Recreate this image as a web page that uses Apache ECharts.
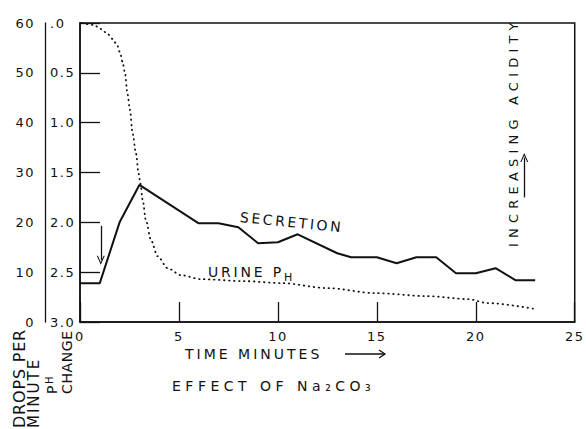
<!DOCTYPE html>
<html>
<head>
<meta charset="utf-8">
<script src="https://cdn.jsdelivr.net/npm/echarts@6/dist/echarts.min.js"></script>
<style>
  html, body { margin: 0; padding: 0; background: #fff; }
  #chart { width: 586px; height: 429px; }
</style>
</head>
<body>
<div id="chart"></div>
<script>
// ---- data ----
const timeTicks = [0, 5, 10, 15, 20, 25];
const dropsTicks = [0, 10, 20, 30, 40, 50, 60];
const phTicks = [0, 0.5, 1.0, 1.5, 2.0, 2.5, 3.0];

const secretionTime  = [0, 1, 2, 3, 6, 7, 8, 9, 10, 11, 13, 13.7, 15, 16, 17, 18, 19, 20, 21, 22, 23];
const secretionDrops = [7.8, 7.8, 20, 27.5, 19.8, 19.8, 19.0, 15.8, 16.0, 17.6, 13.8, 13.0, 13.0, 11.8, 13.0, 13.0, 9.8, 9.8, 10.8, 8.4, 8.4];

const urineTime     = [0.1, 0.7, 1.05, 1.35, 1.65, 1.87, 2.03, 2.15, 2.27, 2.4, 2.52, 2.66, 2.83, 2.96, 3.05, 3.17, 3.33, 3.59, 3.92, 4.43, 5.1, 6.1, 8.3, 10.2, 12.5, 14.9, 17.5, 19.6, 20.6, 23.0];
const urinePhChange = [0.0, 0.02, 0.06, 0.10, 0.16, 0.22, 0.30, 0.39, 0.50, 0.71, 0.87, 1.11, 1.31, 1.51, 1.61, 1.78, 1.98, 2.18, 2.34, 2.46, 2.53, 2.57, 2.59, 2.61, 2.66, 2.71, 2.74, 2.77, 2.81, 2.87];

// injection arrow (time, drops from -> to) and acidity arrow
const injectionArrow = { t: 1.05, from: 19.3, to: 12.4 };
const acidityArrow = { t: 22.45, from: 25.0, to: 33.0 };

// ---- build ----
const FONT = 'DejaVu Sans';
const INK = '#111';
const chevronUp = 'path://M0,10 L5,0 L10,10 L8.6,10 L5,2.8 L1.4,10 Z';

const secretionData = secretionTime.map((t, i) => [t, secretionDrops[i]]);
const urineData = urineTime.map((t, i) => [t, urinePhChange[i]]);

const chart = echarts.init(document.getElementById('chart'), null, { renderer: 'svg' });

function txt(text, x, y, size, opts) {
  opts = opts || {};
  const align = opts.align || 'left';
  return {
    type: 'text', x: x, y: y, rotation: opts.rotation || 0, silent: true,
    style: {
      text: text, fontSize: size, fontFamily: FONT, fill: INK,
      align: align, verticalAlign: 'middle',
      textAlign: align, textVerticalAlign: 'middle'
    }
  };
}

const option = {
  animation: false,
  backgroundColor: '#fff',
  grid: { left: 80, right: 11, top: 23, bottom: 107, show: true, borderColor: INK, borderWidth: 1.5, backgroundColor: 'transparent' },
  xAxis: {
    type: 'value', min: timeTicks[0], max: timeTicks[timeTicks.length - 1], interval: 5,
    axisLine: { onZero: false, lineStyle: { color: INK, width: 1.5 } },
    axisTick: { inside: true, length: 20, lineStyle: { color: INK, width: 1.3 } },
    axisLabel: { color: INK, fontFamily: FONT, fontSize: 13, margin: 8 },
    splitLine: { show: false }
  },
  yAxis: [
    {
      type: 'value', min: dropsTicks[0], max: dropsTicks[dropsTicks.length - 1], interval: 10,
      position: 'left', offset: 35,
      axisLine: { show: true, onZero: false, lineStyle: { color: INK, width: 1.3 } },
      axisTick: { show: false },
      axisLabel: { color: INK, fontFamily: FONT, fontSize: 13, margin: 10, align: 'right' },
      splitLine: { show: false }
    },
    {
      type: 'value', min: phTicks[0], max: phTicks[phTicks.length - 1], interval: 0.5, inverse: true,
      position: 'left', offset: 0,
      axisLine: { show: true, onZero: false, lineStyle: { color: INK, width: 1.5 } },
      axisTick: { show: true, inside: true, length: 20, lineStyle: { color: INK, width: 1.3 } },
      axisLabel: { color: INK, fontFamily: FONT, fontSize: 13, margin: 30, align: 'left',
        formatter: v => (v === 0 ? '.0' : v.toFixed(1)) },
      splitLine: { show: false }
    }
  ],
  series: [
    {
      name: 'Secretion', type: 'line', yAxisIndex: 0, data: secretionData,
      showSymbol: false, symbol: 'none', silent: true,
      lineStyle: { color: INK, width: 2 },
      markLine: {
        silent: true, animation: false,
        symbol: ['none', chevronUp], symbolSize: [8, 9],
        label: { show: false },
        lineStyle: { color: INK, width: 1.3, type: 'solid' },
        emphasis: { disabled: true },
        data: [
          [{ coord: [injectionArrow.t, injectionArrow.from] }, { coord: [injectionArrow.t, injectionArrow.to] }],
          [{ coord: [acidityArrow.t, acidityArrow.from] }, { coord: [acidityArrow.t, acidityArrow.to] }]
        ]
      }
    },
    {
      name: 'Urine pH', type: 'line', yAxisIndex: 1, data: urineData,
      showSymbol: false, symbol: 'none', silent: true, smooth: 0.3, smoothMonotone: 'x',
      lineStyle: { color: INK, width: 1.8, type: [0.5, 4.5], cap: 'round' }
    }
  ],
  graphic: [
    txt('SECRETION', 240, 217, 14, { rotation: -0.1 }),
    txt('URINE P', 208, 272, 14),
    txt('H', 284, 277, 11),
    txt('INCREASING ACIDITY', 513, 247, 13, { rotation: Math.PI / 2 }),
    txt('TIME MINUTES', 185, 354, 14),
    { type: 'line', silent: true, shape: { x1: 345, y1: 354, x2: 385, y2: 354 }, style: { stroke: INK, lineWidth: 1.3 } },
    { type: 'polyline', silent: true, shape: { points: [[379, 350], [385, 354], [379, 358]] }, style: { stroke: INK, lineWidth: 1.3, fill: null } },
    txt('EFFECT OF Na₂CO₃', 172, 386, 14),
    txt('DROPS PER', 19, 428, 16, { rotation: Math.PI / 2 }),
    txt('MINUTE', 34, 428, 15, { rotation: Math.PI / 2 }),
    txt('P', 52, 394, 14, { rotation: Math.PI / 2 }),
    txt('H', 49, 384, 10, { rotation: Math.PI / 2 }),
    txt('CHANGE', 67, 394, 14, { rotation: Math.PI / 2 })
  ]
};

chart.setOption(option);

// typewriter-like letter spacing of the original lettering
const spacing = {
  'SECRETION': 2.6, 'URINE P': 2.8, 'INCREASING ACIDITY': 5.2, 'TIME MINUTES': 3,
  'EFFECT OF Na₂CO₃': 4.5, 'DROPS PER': 0.8, 'MINUTE': 2, 'CHANGE': 0.6
};
function applySpacing() {
  document.querySelectorAll('#chart svg text').forEach(t => {
    const s = t.textContent;
    const ls = spacing.hasOwnProperty(s) ? spacing[s] : 1.5;
    t.style.letterSpacing = ls + 'px';
  });
}
chart.on('finished', applySpacing);
applySpacing();
setTimeout(applySpacing, 0);
setTimeout(applySpacing, 100);
setTimeout(applySpacing, 400);
</script>
</body>
</html>
